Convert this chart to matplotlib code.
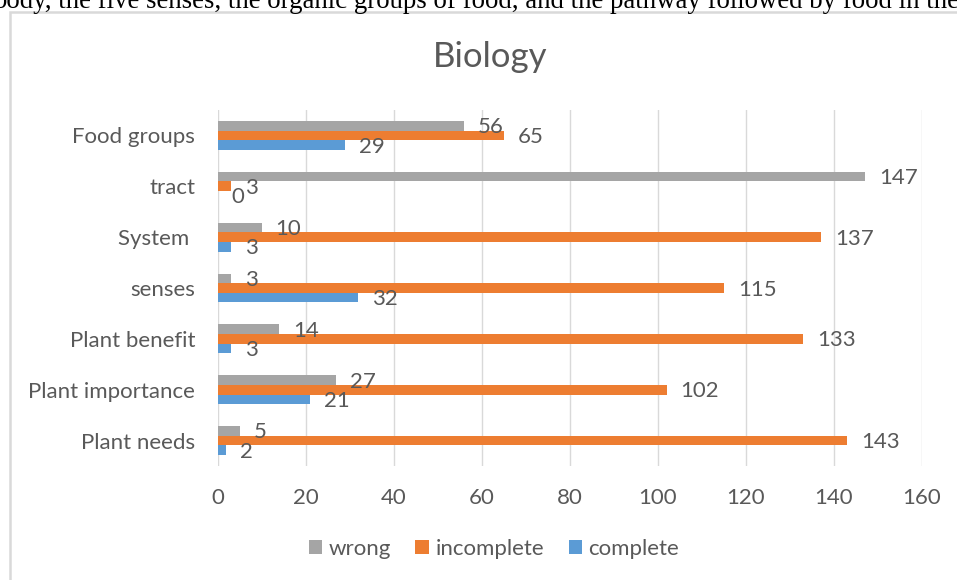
import numpy as np
import matplotlib.pyplot as plt
from matplotlib.patches import Rectangle

categories = ["Plant needs", "Plant importance", "Plant benefit", "senses",
              "System ", "tract", "Food groups"]
complete = [2, 21, 3, 32, 3, 0, 29]
incomplete = [143, 102, 133, 115, 137, 3, 65]
wrong = [5, 27, 14, 3, 10, 147, 56]

c_wrong = "#A5A5A5"
c_inc = "#ED7D31"
c_comp = "#5B9BD5"
txt = "#595959"

plt.rcParams['font.family'] = ['Lato', 'DejaVu Sans']

fig = plt.figure(figsize=(9.57, 5.8), dpi=100)
ax = fig.add_axes([217.5/957, 1-466/580, (922-217.5)/957, (466-110)/580])

y = np.arange(len(categories))
h = 0.19
series = [(wrong, c_wrong, h, "wrong"),
          (incomplete, c_inc, 0, "incomplete"),
          (complete, c_comp, -h, "complete")]
for vals, col, off, name in series:
    ax.barh(y + off, vals, height=h, color=col, label=name, zorder=3)
    for yi, v in zip(y, vals):
        ax.annotate(str(v), (v, yi + off - 0.03), xytext=(14, 0),
                    textcoords="offset pixels", ha="left", va="center",
                    fontsize=16, color=txt, zorder=4)

ax.set_xlim(0, 160)
ax.set_ylim(-0.5, 6.5)
ax.set_xticks(np.arange(0, 161, 20))
ax.set_yticks(y)
ax.set_yticklabels(categories)
ax.grid(axis="x", color="#d9d9d9", lw=1, zorder=0)
for s in ax.spines.values():
    s.set_visible(False)
ax.tick_params(length=0, labelsize=16, labelcolor=txt)
ax.tick_params(axis="x", pad=16)
ax.tick_params(axis="y", pad=16)

handles, labels = ax.get_legend_handles_labels()
fig.legend(handles, labels, loc="center", bbox_to_anchor=(494/957, 1-549/580),
           ncol=3, frameon=False, fontsize=16, labelcolor=txt,
           handlelength=0.6, handleheight=0.6, handletextpad=0.3, columnspacing=1.1)

fig.text(490/957, 1-67/580, "Biology", ha="center", va="baseline",
         fontsize=25, color=txt)

# chart border (runs off the right and bottom edges)
fig.patches.append(Rectangle((9.5/957, -0.1), 1.2, 1-11.5/580 + 0.1,
                             transform=fig.transFigure, fill=False,
                             edgecolor="#d9d9d9", lw=1.8))

# cropped document text above the chart
fig.text(-7/957, 1-8/580,
         "body, the five senses, the organic groups of food, and the pathway followed by food in the",
         ha="left", va="baseline", fontsize=19.3, family="Liberation Serif", color="black")

fig.savefig("out.png", dpi=100)
